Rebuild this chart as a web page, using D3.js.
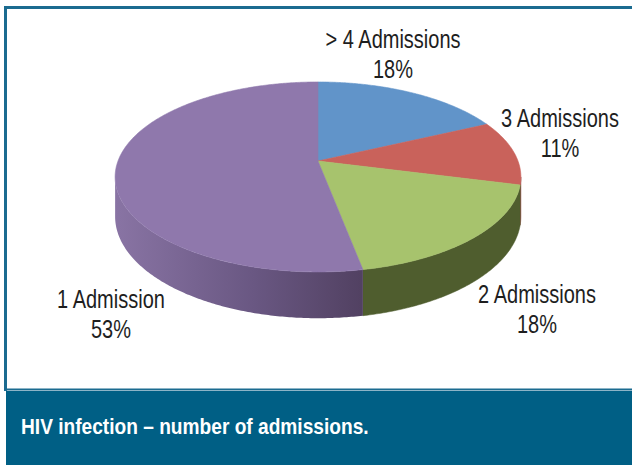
<!DOCTYPE html>
<html>
<head>
<meta charset="utf-8">
<script src="https://cdn.jsdelivr.net/npm/d3@7"></script>
<style>
  html, body { margin: 0; padding: 0; background: #fff; }
  svg { display: block; }
  .lbl { font-family: "Liberation Sans", Arial, sans-serif; font-size: 25px; fill: #1e1e1e; }
  .cap { font-family: "Liberation Sans", Arial, sans-serif; font-size: 22px; font-weight: bold; fill: #ffffff; }
</style>
</head>
<body>
<svg id="chart" width="632" height="465"></svg>
<script>
// Admission counts among HIV patients (share of patients, %)
const categories = ["> 4 Admissions", "3 Admissions", "2 Admissions", "1 Admission"];
const shares = [18, 11, 18, 53];
const shareLabels = ["18%", "11%", "18%", "53%"];
const caption = "HIV infection \u2013 number of admissions.";

// Slice colours: top face and side face
const topColors = ["#6194c9", "#c9625b", "#a7c36d", "#8f78ac"];
const sideColors = ["#3f6389", "#8a3f3b", "#4f5d2e", "#6a5784"];

// Label placement (centre x, first baseline) per category
const labelLayout = {
  "> 4 Admissions": { x: 393, y: 48 },
  "3 Admissions":   { x: 560, y: 127 },
  "2 Admissions":   { x: 537, y: 303 },
  "1 Admission":    { x: 111, y: 308 }
};
// Condensed type: glyphs are squeezed horizontally to this fraction
const squeeze = 0.8;

const svg = d3.select("#chart");

// Frame and caption band
const frameColor = "#1b6b90";
svg.append("line").attr("x1", 4).attr("x2", 632).attr("y1", 7.5).attr("y2", 7.5)
  .attr("stroke", frameColor).attr("stroke-width", 3);
svg.append("line").attr("x1", 5.5).attr("x2", 5.5).attr("y1", 6).attr("y2", 391)
  .attr("stroke", frameColor).attr("stroke-width", 3);
svg.append("line").attr("x1", 4).attr("x2", 632).attr("y1", 389.5).attr("y2", 389.5)
  .attr("stroke", frameColor).attr("stroke-width", 2);
svg.append("rect").attr("x", 6).attr("y", 391).attr("width", 626).attr("height", 74)
  .attr("fill", "#005f85");

// Text squeezed horizontally around its anchor point
function condensedText(parent, x, y, str, cls, factor, anchor) {
  return parent.append("g")
    .attr("transform", `translate(${x},${y}) scale(${factor},1)`)
    .append("text").attr("class", cls).attr("text-anchor", anchor).text(str);
}

condensedText(svg, 21, 434, caption, "cap", 0.87, "start");

// Perspective projection of a tilted disc: angle is clockwise from 12 o'clock
const cx = 318, cy = 161, R = 200, Rb = 92.3, k = 0.168, H = 38.5;
function proj(a) {
  const u = Math.sin(a), v = -Math.cos(a), w = 1 - k * v;
  return [cx + R * u / w, cy + Rb * v / w, H / w];
}

const pie = d3.pie().sort(null).value(d => d);
const arcs = pie(shares);

const line = d3.line();
function arcPoints(a0, a1) {
  const n = Math.max(2, Math.ceil((a1 - a0) / 0.01));
  return d3.range(n + 1).map(i => proj(a0 + (a1 - a0) * i / n));
}

// Visible front side: between the two silhouette angles
const sil0 = Math.acos(-k), sil1 = 2 * Math.PI - Math.acos(-k);

const defs = svg.append("defs");
const grad = defs.append("linearGradient").attr("id", "sideShade")
  .attr("gradientUnits", "userSpaceOnUse").attr("x1", 115).attr("x2", 425).attr("y1", 0).attr("y2", 0);
grad.append("stop").attr("offset", 0).attr("stop-color", "#8974a4");
grad.append("stop").attr("offset", 0.45).attr("stop-color", "#695782");
grad.append("stop").attr("offset", 1).attr("stop-color", "#44344f");

const sides = svg.append("g");
arcs.forEach((d, i) => {
  const a0 = Math.max(d.startAngle, sil0), a1 = Math.min(d.endAngle, sil1);
  if (a1 <= a0) return;
  const topPts = arcPoints(a0, a1);
  const pts = topPts.map(p => [p[0], p[1]])
    .concat(topPts.slice().reverse().map(p => [p[0], p[1] + p[2]]));
  sides.append("path")
    .attr("d", line(pts) + "Z")
    .attr("fill", i === 3 ? "url(#sideShade)" : sideColors[i])
    .attr("stroke", i === 3 ? "none" : sideColors[i]).attr("stroke-width", 0.5);
});

// Top faces
const tops = svg.append("g");
arcs.forEach((d, i) => {
  const pts = [[cx, cy]].concat(arcPoints(d.startAngle, d.endAngle).map(p => [p[0], p[1]]));
  tops.append("path")
    .attr("d", line(pts) + "Z")
    .attr("fill", topColors[i])
    .attr("stroke", topColors[i]).attr("stroke-width", 0.6);
});

// Data labels: category and share
const labels = svg.append("g");
categories.forEach((c, i) => {
  const L = labelLayout[c];
  condensedText(labels, L.x, L.y, c, "lbl", squeeze, "middle");
  condensedText(labels, L.x, L.y + 30, shareLabels[i], "lbl", squeeze, "middle");
});
</script>
</body>
</html>
